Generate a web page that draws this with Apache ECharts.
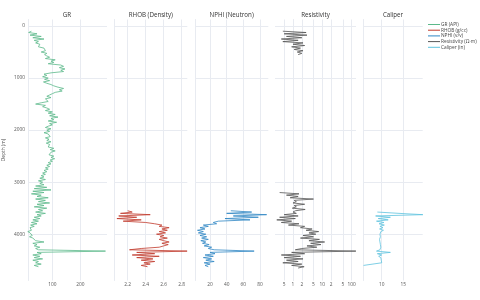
<!DOCTYPE html>
<html>
<head>
<meta charset="utf-8">
<script src="https://cdn.jsdelivr.net/npm/echarts@6/dist/echarts.min.js"></script>
<style>
  html, body { margin: 0; padding: 0; background: #fff; }
  #chart { width: 480px; height: 300px; }
</style>
</head>
<body>
<div id="chart"></div>
<script>
// log samples every 25 m
const STEP = 25

const grTop = 100
const grValues = [
  25, 15, 45, 20, 60, 30, 70, 35, 50, 40,
  55, 62, 50, 70, 65, 75, 60, 80, 72,
  80, 90, 75, 110, 95, 105, 85, 130, 140, 125, 145, 130, 140, 95,
  70, 80, 65, 85, 72, 90, 68, 80,
  95, 105, 120, 140, 125, 135, 110, 100,
  90, 80, 95, 75, 70, 85, 60, 40, 75, 65, 80,
  90, 75, 100, 85, 110, 90, 120, 95, 105, 85, 115, 90, 100,
  85, 75, 95, 80, 90, 70, 85, 78, 92, 75, 88, 80, 95, 78, 90,
  95, 85, 105, 92, 110, 95, 100, 88, 105, 95, 108, 92,
  100, 85, 95, 80, 90, 75, 85, 70, 80, 65, 75,
  60, 70, 55, 75, 50, 65, 55, 70,
  40, 80, 35, 95, 30, 70, 25, 60,
  45, 85, 40, 75, 50, 90, 45, 70, 35, 80, 50, 65, 40, 75, 45,
  60, 35, 55, 30, 50, 25, 45, 22, 35, 20,
  15, 25, 12, 20, 14, 28, 18, 30,
  25, 40, 70, 30, 45, 35, 55, 40, 50,
  290,
  45, 60, 30, 55, 35, 65, 30, 50, 40, 60, 35, 50
]

const rhobTop = 3550
const rhobValues = [
  2.20, 2.25, 2.12, 2.45, 2.10, 2.30, 2.08, 2.35, 2.15, 2.40,
  2.50, 2.58, 2.55, 2.66, 2.58, 2.64, 2.55, 2.62, 2.52, 2.60,
  2.56, 2.64, 2.55, 2.60, 2.66, 2.58, 2.65, 2.60, 2.55, 2.35,
  2.22, 2.86, 2.30, 2.50, 2.25, 2.55, 2.30, 2.48, 2.35, 2.50,
  2.38, 2.45, 2.35, 2.42
]

const nphiTop = 3550
const nphiValues = [
  45, 70, 40, 88, 48, 78, 38, 68, 30, 24,
  28, 12, 18, 8, 14, 5, 12, 6, 15, 8,
  16, 10, 18, 9, 15, 11, 19, 13, 22, 18,
  25, 73, 20, 26, 14, 24, 12, 22, 15, 25,
  13, 20, 14, 18
]

const resUpperTop = 100
const resUpperValues = [
  0.45, 2.8, 0.5, 3.0, 0.6, 2.0, 0.4, 1.5, 0.45, 2.2,
  1.0, 2.5, 0.9, 1.8, 1.1, 2.2, 1.4, 2.0, 1.5
]

const resLowerTop = 3200
const resLowerValues = [
  0.35, 1.6, 0.6, 1.5, 0.8, 5.0, 1.1, 1.3, 1.0, 2.5,
  1.1, 1.3, 0.95, 2.6, 1.2, 1.0, 1.3, 0.5, 1.5, 0.35,
  1.2, 0.28, 0.9, 0.4, 1.6, 0.7, 2.5, 1.8, 4.5, 2.8,
  7.5, 3.5, 6.0, 2.2, 5.0, 1.8, 8.0, 3.5, 12, 4.0,
  9.0, 3.0, 6.5, 2.0, 1.2, 140, 0.9, 2.5, 0.4, 1.8,
  0.5, 2.2, 0.6, 1.5, 0.45, 2.0, 0.9, 2.4, 1.5
]

const calTop = 3575
const calValues = [
  9.0, 14.0, 19.5, 8.6, 12.0, 9.2, 11.5, 8.8, 10.5, 9.4,
  10.6, 9.6, 10.3, 9.5, 10.4, 9.8, 10.1, 9.6, 10.0, 9.7,
  9.9, 9.5, 9.9, 9.6, 10.0, 9.7, 10.1, 9.8, 10.0, 9.6,
  8.8, 12.0, 9.0, 10.0, 9.3, 9.8, 9.4, 9.9, 9.5, 10.0,
  9.6, 5.8
]

const depthTicks = [0, 1000, 2000, 3000, 4000]
const grTicks = [100, 200]
const rhobTicks = [2.2, 2.4, 2.6, 2.8]
const nphiTicks = [20, 40, 60, 80]
const resTicks = [0.5, 1, 2, 5, 10, 20, 50, 100]
const resTickText = ['5', '1', '2', '5', '10', '2', '5', '100']
const calTicks = [10, 15]

const titles = ['GR', 'RHOB (Density)', 'NPHI (Neutron)', 'Resistivity', 'Caliper']
const names = ['GR (API)', 'RHOB (g/cc)', 'NPHI (v/v)', 'Resistivity (Ω·m)', 'Caliper (in)']
const colors = ['#5cb98a', '#c0392b', '#2f86c4', '#555555', '#5ec3de']

const FONT = 'Open Sans'
const GRID_COLOR = '#e8ebf1'

const panels = [
  { left: 27, width: 80, min: 12.7, max: 295.4, ticks: grTicks },
  { left: 114.3, width: 73, min: 2.051, max: 2.862, ticks: rhobTicks },
  { left: 195, width: 73.3, min: 2, max: 90, ticks: nphiTicks },
  { left: 275, width: 81, min: -0.614, max: 2.15, ticks: resTicks.map(Math.log10),
    fmt: function (v) {
      let idx = resTicks.findIndex(t => Math.abs(Math.log10(t) - v) < 1e-6)
      return idx >= 0 ? resTickText[idx] : ''
    } },
  { left: 363.3, width: 59.4, min: 5.75, max: 19.47, ticks: calTicks }
]

function pairs(values, top, log) {
  return values.map((v, i) => [log ? Math.log10(v) : v, top + i * STEP])
}

let myChart = echarts.init(document.getElementById('chart'), null, { renderer: 'canvas' })

function lineSeries(name, idx, data, color) {
  return {
    name: name,
    type: 'line',
    xAxisIndex: idx,
    yAxisIndex: idx,
    data: data,
    symbol: 'none',
    showSymbol: false,
    animation: false,
    lineStyle: { width: 0.8, color: color },
    itemStyle: { color: color }
  }
}

let option = {
  backgroundColor: '#fff',
  animation: false,
  title: panels.map((p, i) => ({
    text: titles[i],
    left: p.left + p.width / 2,
    top: 12,
    textAlign: 'center',
    padding: 0,
    textStyle: { fontFamily: FONT, fontSize: 6.2, fontWeight: 'normal', color: '#333' }
  })),
  legend: {
    orient: 'vertical',
    left: 428,
    top: 22,
    icon: 'rect',
    itemWidth: 12,
    itemHeight: 1,
    itemGap: 0.7,
    padding: 0,
    data: names,
    textStyle: { fontFamily: FONT, fontSize: 4.8, lineHeight: 5, color: '#444', padding: [0, 0, 0, -4] }
  },
  grid: panels.map(p => ({ left: p.left, width: p.width, top: 19.5, height: 261 })),
  xAxis: panels.map((p, i) => ({
    gridIndex: i,
    type: 'value',
    min: p.min,
    max: p.max,
    axisLine: { show: false },
    axisTick: { show: false, customValues: p.ticks },
    axisLabel: {
      customValues: p.ticks,
      fontFamily: FONT,
      fontSize: 4.8,
      color: '#555',
      margin: 2,
      formatter: p.fmt || (v => String(v))
    },
    splitLine: { show: true, lineStyle: { color: GRID_COLOR, width: 1 } }
  })),
  yAxis: panels.map((p, i) => ({
    gridIndex: i,
    type: 'value',
    inverse: true,
    min: -125,
    max: 4890,
    name: i === 0 ? 'Depth (m)' : '',
    nameLocation: 'middle',
    nameGap: 22,
    nameTextStyle: { fontFamily: FONT, fontSize: 4.8, color: '#444' },
    axisLine: { show: true, lineStyle: { color: GRID_COLOR, width: 1 } },
    axisTick: { show: false, customValues: depthTicks },
    axisLabel: {
      show: i === 0,
      customValues: depthTicks,
      fontFamily: FONT,
      fontSize: 4.8,
      color: '#555',
      margin: 3,
      formatter: v => String(v)
    },
    splitLine: { show: true, lineStyle: { color: GRID_COLOR, width: 1 } }
  })),
  series: [
    lineSeries(names[0], 0, pairs(grValues, grTop), colors[0]),
    lineSeries(names[1], 1, pairs(rhobValues, rhobTop), colors[1]),
    lineSeries(names[2], 2, pairs(nphiValues, nphiTop), colors[2]),
    lineSeries(names[3], 3, pairs(resUpperValues, resUpperTop, true), colors[3]),
    lineSeries(names[3], 3, pairs(resLowerValues, resLowerTop, true), colors[3]),
    lineSeries(names[4], 4, pairs(calValues, calTop), colors[4])
  ]
}

myChart.setOption(option)
window.addEventListener('resize', function () {
  myChart.resize()
})
</script>
</body>
</html>
